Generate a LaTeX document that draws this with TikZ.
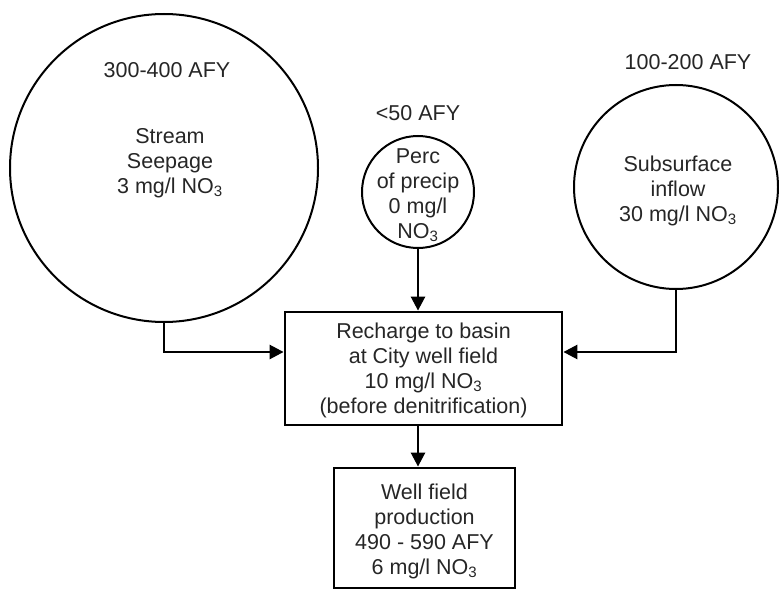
\documentclass[tikz,border=0pt]{standalone}
\usepackage{fontspec}
\setmainfont{Liberation Sans}
\usetikzlibrary{arrows.meta}
\begin{document}
\begin{tikzpicture}[x=1pt,y=-1pt,
  txt/.style={align=center,font=\fontsize{21.5}{25}\selectfont,text=black!85,inner sep=0pt},
  afy/.style={font=\fontsize{21.5}{25}\selectfont,text=black!85,inner sep=0pt},
  circ/.style={draw,circle,line width=2pt,inner sep=0pt},
  boxx/.style={draw,rectangle,line width=2.8pt,inner sep=0pt},
  conn/.style={line width=2.6pt,-{Triangle[length=14pt,width=14pt]}}]
\useasboundingbox (0,0) rectangle (779,591);
% circles
\node[circ,minimum size=308pt] (L) at (164,168) {};
\node[circ,minimum size=112pt] (M) at (418,192) {};
\node[circ,minimum size=204pt] (R) at (676,187) {};
% boxes
\node[boxx,minimum width=277pt,minimum height=113pt] (rech) at (423.5,368.5) {};
\node[boxx,minimum width=181pt,minimum height=120pt] (well) at (424.5,528) {};
% texts
\node[afy] (Lq) at (167,70) {300-400 AFY};
\node[txt] (Lt) at (170,163) {Stream\\Seepage\\3 mg/l NO\textsubscript{3}};
\node[afy] (Mq) at (418,113) {<50 AFY};
\node[txt] (Mt) at (418,195) {Perc\\of precip\\0 mg/l\\NO\textsubscript{3}};
\node[afy] (Rq) at (688,62) {100-200 AFY};
\node[txt] (Rt) at (678,190.5) {Subsurface\\inflow\\30 mg/l NO\textsubscript{3}};
\node[txt] (rt) at (423.5,370.5) {Recharge to basin\\at City well field\\10 mg/l NO\textsubscript{3}\\(before denitrification)};
\node[txt] (wt) at (424.5,531.5) {Well field\\production\\490 - 590 AFY\\6 mg/l NO\textsubscript{3}};
% connectors
\draw[conn] (L.south) |- ([yshift=16.5pt]rech.west);
\draw[conn] (R.south) |- ([yshift=16.5pt]rech.east);
\draw[conn] (M.south) -- (M.south |- rech.north);
\draw[conn] (rech.south -| M.south) -- (M.south |- well.north);
\end{tikzpicture}
\end{document}
